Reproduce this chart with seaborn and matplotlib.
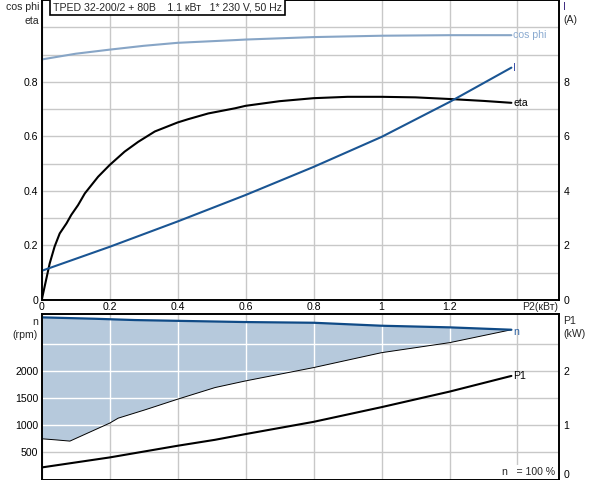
import matplotlib
matplotlib.use("Agg")
import matplotlib.pyplot as plt
import seaborn as sns
import numpy as np

# --- data ---
cos_p2 = [0, 0.1, 0.2, 0.3, 0.4, 0.569, 0.6, 0.8, 1.0, 1.2, 1.382]
cos_phi = [0.882, 0.903, 0.918, 0.932, 0.943, 0.953, 0.955, 0.964, 0.969, 0.971, 0.971]

eta_p2 = [0, 0.0107, 0.0235, 0.038, 0.053, 0.073, 0.087, 0.107, 0.127, 0.166, 0.2,
          0.244, 0.284, 0.333, 0.4, 0.431, 0.49, 0.569, 0.6, 0.7, 0.8, 0.9, 1.0,
          1.1, 1.2, 1.3, 1.382]
eta = [0, 0.061, 0.134, 0.196, 0.244, 0.281, 0.312, 0.348, 0.391, 0.452, 0.495,
       0.544, 0.580, 0.618, 0.651, 0.663, 0.684, 0.703, 0.712, 0.729, 0.740, 0.745, 0.745,
       0.743, 0.737, 0.730, 0.723]

cur_p2 = [0, 0.2, 0.4, 0.6, 0.8, 1.0, 1.2, 1.382]
current = [1.07, 1.95, 2.88, 3.85, 4.88, 5.98, 7.26, 8.52]

n_p2 = [0, 0.157, 0.274, 0.431, 0.6, 0.8, 1.0, 1.2, 1.382]
n_rpm = [2998, 2972, 2948, 2930, 2911, 2898, 2843, 2813, 2769]

nlow_p2 = [0, 0.039, 0.083, 0.2, 0.225, 0.304, 0.4, 0.51, 0.6, 0.8, 1.0, 1.2, 1.382]
nlow_rpm = [753, 734, 710, 1042, 1134, 1288, 1485, 1700, 1823, 2069, 2345, 2530, 2769]

p1_p2 = [0, 0.2, 0.4, 0.51, 0.6, 0.8, 1.0, 1.2, 1.382]
p1_kw = [0.223, 0.408, 0.624, 0.734, 0.84, 1.066, 1.338, 1.625, 1.915]

x_ticks = [0, 0.2, 0.4, 0.6, 0.8, 1.0, 1.2, 1.4]
x_labels = ['0', '0.2', '0.4', '0.6', '0.8', '1', '1.2', '']

sns.set_style("white")
plt.rcParams['font.family'] = ['Liberation Sans', 'DejaVu Sans']
FS = 7.6
plt.rcParams['font.size'] = FS

W, H = 592, 480
fig = plt.figure(figsize=(W / 100, H / 100), dpi=100)

def px(x, y):
    return x / W, 1 - y / H

grid_c = '#c8c8c8'
c_cos = '#87a5c6'
c_cur = '#1a5593'
c_n = '#0f4a86'
c_fill = '#b6c9dc'

# ---------- top panel ----------
ax1 = fig.add_axes([41.7 / W, 180 / H, 517.6 / W, 300 / H])
ax1r = ax1.twinx()
ax1.set_xlim(0, 1.523)
ax1.set_ylim(0, 1.1)
ax1r.set_ylim(0, 11)

ax1.set_axisbelow(True)
ax1.set_xticks(x_ticks)
ax1.set_xticklabels(x_labels)
yt = np.round(np.arange(0, 1.01, 0.1), 1)
ax1.set_yticks(yt)
ax1.set_yticklabels(['0', '', '0.2', '', '0.4', '', '0.6', '', '0.8', '', ''])
ax1.grid(True, color=grid_c, lw=1)
ax1r.set_yticks([0, 2, 4, 6, 8])
ax1r.set_yticklabels(['0', '2', '4', '6', '8'])

sns.lineplot(x=cos_p2, y=cos_phi, ax=ax1, color=c_cos, lw=1.5)
sns.lineplot(x=eta_p2, y=eta, ax=ax1, color='black', lw=1.5)
sns.lineplot(x=cur_p2, y=current, ax=ax1r, color=c_cur, lw=1.5)

ax1.text(1.388, cos_phi[-1], 'cos phi', color='#8aaad0', va='center', ha='left', fontsize=FS)
ax1.text(1.388, eta[-1], 'eta', color='black', va='center', ha='left', fontsize=FS)
ax1r.text(1.388, current[-1], 'I', color='#3c4fa8', va='center', ha='left', fontsize=FS)

# ---------- bottom panel ----------
ax2 = fig.add_axes([41.7 / W, 0.5 / H, 517.6 / W, 165.5 / H])
ax2r = ax2.twinx()
ax2.set_xlim(0, 1.523)
ax2.set_ylim(0, 3060)
ax2r.set_ylim(0, 3.06)

ax2.set_axisbelow(True)
ax2.set_xticks(x_ticks)
ax2.set_xticklabels([])
ax2.set_yticks([500, 1000, 1500, 2000, 2500])
ax2.set_yticklabels(['500', '1000', '1500', '2000', ''])
ax2.grid(True, color=grid_c, lw=1)
ax2r.set_yticks([0, 1, 2])
ax2r.set_yticklabels(['0', '1', '2'])
ax2r.get_yticklabels()[0].set_va('bottom')

poly_x = list(n_p2) + list(nlow_p2[::-1])
poly_y = list(n_rpm) + list(nlow_rpm[::-1])
poly = ax2.fill(poly_x, poly_y, color=c_fill, lw=0, zorder=1)[0]
for yv in [500, 1000, 1500, 2000, 2500]:
    ln = ax2.axhline(yv, color='white', lw=1, zorder=1.2)
    ln.set_clip_path(poly)
for xv in x_ticks[1:]:
    ln = ax2.axvline(xv, color='white', lw=1, zorder=1.2)
    ln.set_clip_path(poly)

sns.lineplot(x=nlow_p2, y=nlow_rpm, ax=ax2, color='black', lw=0.7, zorder=2)
sns.lineplot(x=n_p2, y=n_rpm, ax=ax2, color=c_n, lw=1.6, zorder=3)
sns.lineplot(x=p1_p2, y=p1_kw, ax=ax2r, color='black', lw=1.5)

ax2.text(1.388, n_rpm[-1] - 40, 'n', color='#2a5fa0', va='center', ha='left', fontsize=FS)
ax2r.text(1.388, p1_kw[-1], 'P1', color='black', va='center', ha='left', fontsize=FS)

# ---------- common styling ----------
for a in (ax1, ax1r, ax2, ax2r):
    a.tick_params(length=0, labelsize=FS, colors='black')
    a.set_xlabel('')
    a.set_ylabel('')
    for s in a.spines.values():
        s.set_color('black')
        s.set_linewidth(1.2)
ax1.tick_params(axis='x', pad=1.2)
ax1.tick_params(axis='y', pad=2.5)
ax2.tick_params(axis='y', pad=2.5)
ax1r.tick_params(axis='y', pad=3)
ax2r.tick_params(axis='y', pad=3)

# axis captions
fig.text(*px(39, 7), 'cos phi', ha='right', va='center', fontsize=FS)
fig.text(*px(39, 21), 'eta', ha='right', va='center', fontsize=FS)
fig.text(*px(563, 7), 'I', ha='left', va='center', fontsize=FS, color='#3c2a80')
fig.text(*px(563, 20), '(A)', ha='left', va='center', fontsize=FS)
fig.text(*px(558, 307), 'P2(кВт)', ha='right', va='center', fontsize=FS)
fig.text(*px(38, 322), 'n', ha='right', va='center', fontsize=FS)
fig.text(*px(38, 335), '(rpm)', ha='right', va='center', fontsize=FS)
fig.text(*px(563, 321), 'P1', ha='left', va='center', fontsize=FS)
fig.text(*px(563, 334), '(kW)', ha='left', va='center', fontsize=FS)
fig.text(*px(555, 472), 'n   = 100 %', ha='right', va='center', fontsize=FS,
         bbox=dict(facecolor='white', edgecolor='none', pad=1.5))

fig.text(*px(53, 7), 'TPED 32-200/2 + 80B    1.1 кВт   1* 230 V, 50 Hz',
         ha='left', va='center', fontsize=FS,
         bbox=dict(facecolor='white', edgecolor='black', lw=1.2,
                   boxstyle='square,pad=0.25'))

fig.savefig('out.png', dpi=100)
